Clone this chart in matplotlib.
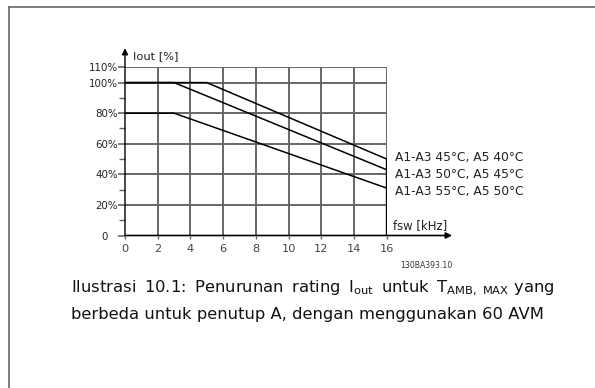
import matplotlib
matplotlib.use("Agg")
import matplotlib.pyplot as plt
from matplotlib.lines import Line2D

# ---- data ----
freq_45 = [0, 5, 16]
iout_45 = [100, 100, 50]
freq_50 = [0, 3, 16]
iout_50 = [100, 100, 43]
freq_55 = [0, 3, 16]
iout_55 = [80, 80, 31]
series_labels = ["A1-A3 45°C, A5 40°C", "A1-A3 50°C, A5 45°C", "A1-A3 55°C, A5 50°C"]
x_ticks = [0, 2, 4, 6, 8, 10, 12, 14, 16]
y_ticks = [0, 20, 40, 60, 80, 100, 110]
y_tick_labels = ["0   ", "20%", "40%", "60%", "80%", "100%", "110%"]
y_minor = [10, 30, 50, 70, 90]

plt.rcParams['font.family'] = ['DejaVu Sans']
plt.rcParams['mathtext.fontset'] = 'custom'
plt.rcParams['mathtext.rm'] = 'DejaVu Sans'

W, H = 595, 388
fig = plt.figure(figsize=(W / 100, H / 100), dpi=100)

# axes placement: x 0..16 -> px 125..386.7, y 0..110 -> px 235..67.3
ax = fig.add_axes([125 / W, (H - 235.5) / H, 261.7 / W, (235.5 - 67.3) / H])
ax.set_xlim(0, 16)
ax.set_ylim(0, 110)
for s in ax.spines.values():
    s.set_visible(False)

grid_c = '#666666'
# horizontal grid
for yv in y_ticks[1:]:
    ax.plot([0, 16], [yv, yv], color=grid_c, lw=1.4, solid_capstyle='butt', zorder=1)
# vertical grid
for xv in x_ticks[1:]:
    ax.plot([xv, xv], [0, 110], color=grid_c, lw=1.4, solid_capstyle='butt', zorder=1)

# curves
for fx, fy in [(freq_45, iout_45), (freq_50, iout_50), (freq_55, iout_55)]:
    ax.plot(fx, fy, color='black', lw=1.1, zorder=3)

# thick right limit line
top_end = max(iout_45[-1], iout_50[-1], iout_55[-1])
ax.plot([16, 16], [0, top_end], color='black', lw=2.4, solid_capstyle='butt', zorder=4)

# axes with arrows
ax.annotate('', xy=(0, 122.5), xytext=(0, 0), xycoords='data',
            arrowprops=dict(arrowstyle='-|>', color='black', lw=1.0,
                            mutation_scale=9, shrinkA=0, shrinkB=0),
            annotation_clip=False, zorder=5)
ax.annotate('', xy=(20.0, 0), xytext=(0, 0), xycoords='data',
            arrowprops=dict(arrowstyle='-|>', color='black', lw=1.2,
                            mutation_scale=9, shrinkA=0, shrinkB=0),
            annotation_clip=False, zorder=5)

ax.set_xticks(x_ticks)
ax.set_xticklabels([str(v) for v in x_ticks], fontsize=8.2, color='#444444')
ax.set_yticks(y_ticks)
ax.set_yticklabels(y_tick_labels, fontsize=7.4, color='#222222')
ax.set_yticks(y_minor, minor=True)
ax.tick_params(axis='y', which='major', length=5, width=1.2, color=grid_c, pad=0)
ax.tick_params(axis='y', which='minor', length=4, width=1.0, color=grid_c)
ax.tick_params(axis='x', which='both', length=2.5, width=1.0, color=grid_c, pad=3.5)

ax.text(0.47, 117.4, "Iout [%]", fontsize=8.2, va='center', ha='left', color='#222222')
ax.text(16.4, 6.6, "fsw [kHz]", fontsize=8.4, va='center', ha='left', color='#222222')
for lab, yv in zip(series_labels, [51.2, 40.0, 28.9]):
    ax.text(16.5, yv, lab, fontsize=8.8, va='center', ha='left', color='#222222')
ax.text(18.4, -19.7, "130BA393.10", fontsize=5.6, va='center', ha='center', color='#333333')

# caption
fig.text(71 / W, 1 - 288 / H,
         "Ilustrasi\u2009 10.1:\u2009 Penurunan\u2009 rating\u2009 I$_{\\mathrm{out}}$\u2009 untuk\u2009 T$_{\\mathrm{AMB,\\ MAX}}$ yang",
         fontsize=11.8, va='center', ha='left', color='#111111')
fig.text(71 / W, 1 - 314 / H,
         "berbeda untuk penutup A, dengan menggunakan 60 AVM",
         fontsize=11.8, va='center', ha='left', color='#111111')

# page frame lines (top and left)
fig.add_artist(Line2D([8.5 / W, 1.0], [1 - 6.5 / H, 1 - 6.5 / H], transform=fig.transFigure,
                      color='#666666', lw=1.2))
fig.add_artist(Line2D([8.5 / W, 8.5 / W], [0, 1 - 6.5 / H], transform=fig.transFigure,
                      color='#666666', lw=1.2))

fig.savefig("out.png", dpi=100)
